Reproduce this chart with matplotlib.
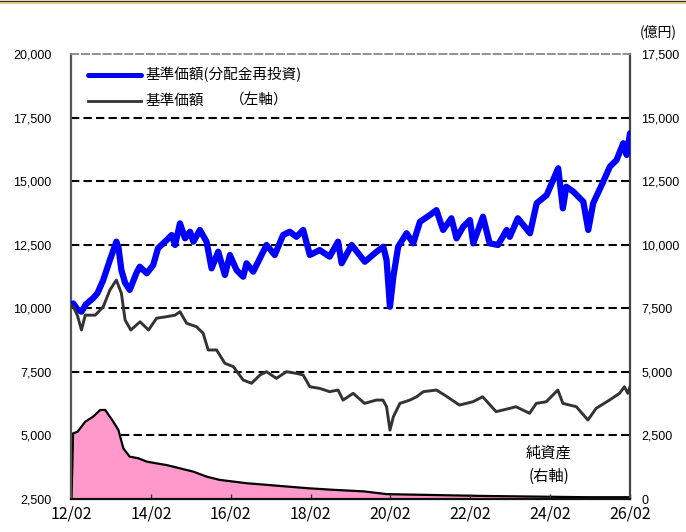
import matplotlib
matplotlib.use('Agg')
import matplotlib.pyplot as plt
import matplotlib.dates as mdates
from matplotlib.lines import Line2D
import pandas as pd

plt.rcParams['font.family'] = ['Liberation Sans', 'Noto Sans CJK JP', 'DejaVu Sans']

# ---- data ----
reinv_dates = [
    "2012-02-06", "2012-02-22", "2012-04-01", "2012-05-07", "2012-06-15", "2012-08-22",
    "2012-10-01", "2012-11-22", "2013-01-22", "2013-03-22", "2013-04-10", "2013-05-07",
    "2013-06-10", "2013-07-22", "2013-09-22", "2013-10-22", "2013-12-25", "2014-02-22",
    "2014-04-07", "2014-06-10", "2014-08-10", "2014-09-10", "2014-10-25", "2014-12-10",
    "2015-01-25", "2015-02-25", "2015-04-25", "2015-06-25", "2015-08-10", "2015-10-10",
    "2015-12-10", "2016-01-25", "2016-03-25", "2016-05-25", "2016-06-25", "2016-08-25",
    "2016-10-25", "2016-12-25", "2017-03-10", "2017-05-25", "2017-07-25", "2017-09-25",
    "2017-11-25", "2018-01-25", "2018-04-25", "2018-07-25",
    "2018-10-10", "2018-11-12", "2019-02-12", "2019-06-12", "2019-09-28", "2019-11-28",
    "2019-12-28", "2020-01-28", "2020-02-28", "2020-04-12", "2020-06-28", "2020-08-28",
    "2020-10-28", "2021-01-28", "2021-03-28", "2021-05-28", "2021-08-12", "2021-09-28",
    "2021-11-28", "2022-01-28", "2022-02-28", "2022-05-28", "2022-07-28", "2022-10-12",
    "2022-12-31", "2023-01-28", "2023-04-12", "2023-08-01", "2023-10-01", "2024-01-01",
    "2024-04-15", "2024-05-28", "2024-06-28", "2024-09-01", "2024-12-01", "2025-01-15",
    "2025-03-01", "2025-06-01", "2025-08-01", "2025-10-01", "2025-12-01", "2026-01-01",
    "2026-02-01",
]
reinv_values = [
    10150, 10190, 9950, 9865, 10150, 10400,
    10600, 11110, 11900, 12620, 12400, 11500,
    11000, 10720, 11390, 11635, 11375, 11700,
    12360, 12620, 12880, 12490, 13340, 12750,
    13010, 12620, 13080, 12620, 11570, 12225,
    11310, 12095, 11505, 11240, 11770, 11440,
    11965, 12490, 12095, 12880, 13010, 12810,
    13080, 12095, 12290, 12030,
    12620, 11770, 12490, 11830, 12225, 12420,
    11900, 10060, 11240, 12420, 12950, 12555,
    13400, 13670, 13860, 13080, 13540, 12750,
    13210, 13470, 12555, 13600, 12555, 12490,
    13080, 12810, 13540, 12950, 14130, 14455,
    15505, 13930, 14780, 14585, 14190, 13080,
    14130, 14980, 15570, 15830, 16490, 16030,
    16880,
]

nav_dates = [
    "2012-02-06", "2012-02-22", "2012-04-01", "2012-05-07", "2012-06-10", "2012-09-10",
    "2012-11-22", "2013-01-22", "2013-03-22", "2013-05-07", "2013-06-10", "2013-08-01",
    "2013-10-25", "2014-01-10", "2014-03-25", "2014-06-25", "2014-09-10", "2014-10-25",
    "2014-12-25", "2015-03-25", "2015-05-25", "2015-07-10", "2015-09-25", "2015-12-10",
    "2016-02-25", "2016-05-25", "2016-08-10", "2016-10-25", "2016-12-25", "2017-03-25",
    "2017-06-25", "2017-09-25", "2017-11-25", "2018-01-25", "2018-04-25", "2018-07-25",
    "2018-10-10", "2018-11-25", "2019-02-25", "2019-06-10", "2019-09-25", "2019-11-25",
    "2019-12-28", "2020-01-28", "2020-02-28", "2020-04-28", "2020-07-28", "2020-09-28",
    "2020-11-28", "2021-03-28", "2021-06-10", "2021-10-25", "2022-02-25", "2022-05-25",
    "2022-09-25", "2023-01-28", "2023-03-25", "2023-07-28", "2023-09-28", "2023-12-28",
    "2024-04-12", "2024-05-28", "2024-09-28", "2025-01-12", "2025-03-28", "2025-07-28",
    "2025-10-28", "2025-12-12", "2026-01-12", "2026-02-01",
]
nav_values = [
    10100, 10060, 9700, 9145, 9730, 9730,
    10060, 10720, 11110, 10590, 9540, 9145,
    9470, 9145, 9610, 9670, 9730, 9865,
    9410, 9275, 9015, 8360, 8360, 7835,
    7705, 7180, 7050, 7375, 7505, 7245,
    7505, 7440, 7375, 6915, 6850, 6720,
    6785, 6390, 6655, 6260, 6390, 6390,
    6130, 5210, 5735, 6260, 6390, 6520,
    6720, 6785, 6590, 6195, 6325, 6520,
    5935, 6065, 6130, 5870, 6260, 6325,
    6785, 6260, 6130, 5605, 6065, 6390,
    6655, 6915, 6655, 6915,
]

asset_dates = [
    "2012-02-06", "2012-02-20", "2012-04-01", "2012-06-10", "2012-08-22", "2012-10-25",
    "2012-12-10", "2013-02-22", "2013-04-10", "2013-05-25", "2013-07-22", "2013-10-10",
    "2013-12-25", "2014-03-25", "2014-06-25", "2014-10-25", "2015-02-25", "2015-06-25",
    "2015-10-25", "2016-02-25", "2016-06-25", "2017-01-01", "2017-07-01", "2018-01-01",
    "2018-09-01", "2019-06-01", "2020-01-01", "2022-06-01", "2025-01-01", "2026-02-01",
]
asset_values = [
    0, 2580, 2645, 3040, 3240, 3500,
    3500, 3040, 2710, 1990, 1665, 1600,
    1470, 1400, 1335, 1205, 1075, 880,
    750, 685, 620, 555, 490, 425,
    360, 300, 190, 120, 70, 70,
]

left_ticks = [2500, 5000, 7500, 10000, 12500, 15000, 17500, 20000]
right_ticks = [0, 2500, 5000, 7500, 10000, 12500, 15000, 17500]
grid_right_values = [2500, 5000, 7500, 10000, 12500, 15000]
x_tick_dates = ["2012-02-01", "2014-02-01", "2016-02-01", "2018-02-01",
                "2020-02-01", "2022-02-01", "2024-02-01", "2026-02-01"]

legend_labels = ["基準価額(分配金再投資)", "基準価額"]

# ---- figure ----
W, H = 686, 532
fig = plt.figure(figsize=(W / 100, H / 100), dpi=100)

def fx(px):
    return px / W

def fy(py):
    return 1 - py / H

ax = fig.add_axes([fx(71), fy(499), fx(630) - fx(71), fy(54) - fy(499)])
ax2 = ax.twinx()
ax.set_zorder(2)
ax2.set_zorder(1)
ax.patch.set_visible(False)

dash = (0, (4, 2))

# right axis: grid + net assets
for v in grid_right_values:
    ax2.axhline(v, color='black', lw=1.5, linestyle=dash, zorder=1)
ad = pd.to_datetime(asset_dates)
ax2.fill_between(ad, asset_values, 0, color='#FF99CC', lw=0, zorder=2)
ax2.plot(ad, asset_values, color='black', lw=1.6, zorder=3)
ax2.set_ylim(0, 17500)
ax2.set_yticks(right_ticks)
ax2.set_yticklabels([f"{v:,}" for v in right_ticks])
ax2.tick_params(axis='y', length=0, pad=8, labelsize=9)
for s in ax2.spines.values():
    s.set_visible(False)

# left axis: NAV lines
ax.plot(pd.to_datetime(reinv_dates), reinv_values, color='#0000FF', lw=4.5,
        solid_joinstyle='round', solid_capstyle='round', zorder=3)
ax.plot(pd.to_datetime(nav_dates), nav_values, color='#333333', lw=2.1, zorder=4)
ax.set_ylim(2500, 20000)
ax.set_yticks(left_ticks)
ax.set_yticklabels([f"{v:,}" for v in left_ticks])
ax.tick_params(axis='y', length=0, pad=14, labelsize=9)

ax.set_xlim(pd.Timestamp("2012-02-01"), pd.Timestamp("2026-02-01"))
ax.set_xticks(pd.to_datetime(x_tick_dates))
ax.xaxis.set_major_formatter(mdates.DateFormatter('%y/%m'))
ax.tick_params(axis='x', direction='in', length=3.5, width=1, color='#333333', pad=5)
for lab in ax.get_xticklabels():
    lab.set_fontfamily(['Noto Sans CJK JP'])
    lab.set_fontsize(11.5)

ax.spines['left'].set_color('#555555')
ax.spines['left'].set_linewidth(1.6)
ax.spines['bottom'].set_color('#111111')
ax.spines['bottom'].set_linewidth(1.6)
ax.spines['right'].set_color('#444444')
ax.spines['right'].set_linewidth(1.6)
ax.spines['top'].set_color('#888888')
ax.spines['top'].set_linewidth(1.3)
ax.spines['top'].set_linestyle(dash)

# legend (manual)
fig.add_artist(Line2D([fx(88), fx(141)], [fy(75), fy(75)], color='#0000FF', lw=3.6,
                      solid_capstyle='round'))
fig.add_artist(Line2D([fx(88), fx(141)], [fy(101), fy(101)], color='#333333', lw=2.0))
cjk = ['Noto Sans CJK JP', 'DejaVu Sans']
fig.text(fx(146), fy(75), legend_labels[0], fontsize=10.5, family=cjk, va='center')
fig.text(fx(146), fy(101), legend_labels[1], fontsize=10.5, family=cjk, va='center')
fig.text(fx(230), fy(101), "（左軸）", fontsize=10.5, family=cjk, va='center')

# annotations
fig.text(fx(677), fy(32), "(億円)", fontsize=10, family=cjk, va='center', ha='right')
fig.text(fx(549), fy(453), "純資産", fontsize=11, family=cjk, va='center', ha='center')
fig.text(fx(549), fy(476), "(右軸)", fontsize=11, family=cjk, va='center', ha='center')

# top decorative border
fig.add_artist(Line2D([0, 1], [fy(1), fy(1)], color='#3a2e10', lw=1.0))
fig.add_artist(Line2D([0, 1], [fy(2.5), fy(2.5)], color='#d8bf85', lw=1.2))

fig.savefig('out.png', dpi=100)
